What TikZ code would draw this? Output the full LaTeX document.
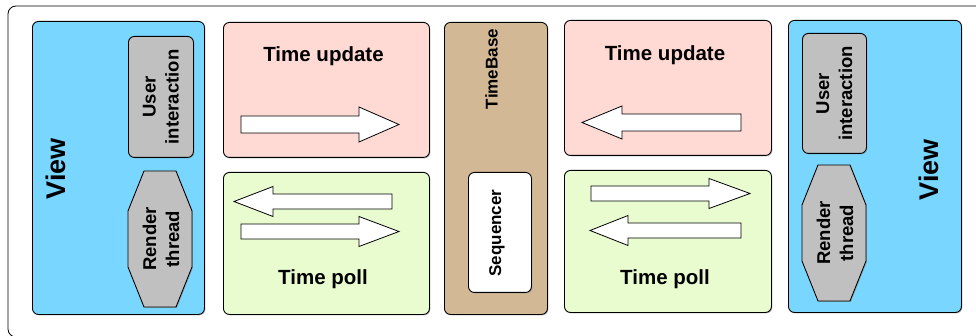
\documentclass[tikz,border=0pt]{standalone}
\usepackage{fontspec}
\setmainfont{Liberation Sans}
\usetikzlibrary{shadows}

\definecolor{viewblue}{HTML}{78D6FF}
\definecolor{updpink}{HTML}{FFD9D3}
\definecolor{pollgreen}{HTML}{E8FCD0}
\definecolor{basetan}{HTML}{D2B895}
\definecolor{partgray}{HTML}{C0C0C0}

\tikzset{
  panel/.style={draw=black, line width=0.9pt, rounded corners=6pt,
    inner sep=0pt, anchor=north west,
    drop shadow={shadow xshift=0.9pt, shadow yshift=-0.9pt, opacity=0.55}},
  octa/.style={draw=black, line width=0.9pt, fill=partgray,
    drop shadow={shadow xshift=0.9pt, shadow yshift=-0.9pt, opacity=0.55}},
  blockarrow/.style={draw=black, line width=0.8pt, fill=white},
  title/.style={font=\bfseries\fontsize{20.5}{24}\selectfont, inner sep=0pt, anchor=base},
  sidetext/.style={rotate=90, align=center, inner sep=0pt,
    font=\bfseries\fontsize{18.5}{23}\selectfont},
  basetext/.style={rotate=90, inner sep=0pt, font=\bfseries\fontsize{17}{20}\selectfont},
  viewtext/.style={rotate=90, inner sep=0pt, font=\bfseries\fontsize{27}{30}\selectfont},
}

% block arrow: tail x, head base x, tip x, centre y, half body width, half head width
\newcommand{\fatarrow}[6]{%
  \draw[blockarrow] (#1,#4-#5) -- (#2,#4-#5) -- (#2,#4-#6) -- (#3,#4)
    -- (#2,#4+#6) -- (#2,#4+#5) -- (#1,#4+#5) -- cycle;}

% octagon around a named node centre: half width, half height, chamfer x, chamfer y
\newcommand{\octagon}[5]{%
  \path[octa] ([shift={(-#2+#4,-#3)}]#1.center) -- ([shift={(#2-#4,-#3)}]#1.center)
    -- ([shift={(#2,-#3+#5)}]#1.center) -- ([shift={(#2,#3-#5)}]#1.center)
    -- ([shift={(#2-#4,#3)}]#1.center) -- ([shift={(-#2+#4,#3)}]#1.center)
    -- ([shift={(-#2,#3-#5)}]#1.center) -- ([shift={(-#2,-#3+#5)}]#1.center) -- cycle;}

\begin{document}
\begin{tikzpicture}[x=1pt, y=-1pt]
\useasboundingbox (0,0) rectangle (976,336);
\clip (0,0) rectangle (976,336);
\fill[white] (0,0) rectangle (976,336);

% outer frame
\draw[line width=0.8pt, rounded corners=8pt] (8,6) rectangle (992,337);

% ---- left view ----
\node[panel, fill=viewblue, minimum width=172pt, minimum height=293pt] (viewL) at (32,21) {};
\node[panel, fill=partgray, minimum width=65pt, minimum height=121pt] (uiL) at (128,36) {};
\node[sidetext] (uiLtext) at (uiL.center) {User\\interaction};
\coordinate (rtL) at (160,239);
\octagon{rtL}{32}{68}{16}{40}
\node[sidetext] (rtLtext) at (161,239) {Render\\thread};
\node[viewtext] (viewLtext) at (56,169) {View};

% ---- left time update / poll ----
\node[panel, fill=updpink, minimum width=206pt, minimum height=135pt] (updL) at (223,22) {};
\node[title] (updLtext) at (323.5,62) {Time update};
\fatarrow{241}{359}{399}{124.5}{8.5}{17.5}

\node[panel, fill=pollgreen, minimum width=206pt, minimum height=142pt] (pollL) at (223,172) {};
\node[title] (pollLtext) at (323,285) {Time poll};
\fatarrow{392}{273}{234}{201.5}{7.5}{15}
\fatarrow{241}{359}{399}{231.5}{7.5}{15}

% ---- time base ----
\node[panel, fill=basetan, minimum width=103pt, minimum height=292pt] (tb) at (444,22) {};
\node[basetext] (tbtext) at (491.5,69) {TimeBase};
\node[panel, fill=white, minimum width=63pt, minimum height=120pt] (seq) at (468,172) {};
\node[basetext] (seqtext) at (497,233) {Sequencer};

% ---- right time update / poll ----
\node[panel, fill=updpink, minimum width=207pt, minimum height=135pt] (updR) at (564,20) {};
\node[title] (updRtext) at (665,61) {Time update};
\fatarrow{741}{622}{582}{122.5}{8.5}{16.5}

\node[panel, fill=pollgreen, minimum width=207pt, minimum height=142pt] (pollR) at (564,170) {};
\node[title] (pollRtext) at (665,284) {Time poll};
\fatarrow{591}{709}{750}{193.5}{7.5}{15}
\fatarrow{741}{628}{590}{230.5}{7.5}{15}

% ---- right view ----
\node[panel, fill=viewblue, minimum width=173pt, minimum height=292pt] (viewR) at (788,20) {};
\node[panel, fill=partgray, minimum width=64pt, minimum height=120pt] (uiR) at (802,33) {};
\node[sidetext] (uiRtext) at (uiR.center) {User\\interaction};
\coordinate (rtR) at (834,233);
\octagon{rtR}{32}{68}{16}{40}
\node[sidetext] (rtRtext) at (835,233) {Render\\thread};
\node[viewtext] (viewRtext) at (929,170) {View};
\end{tikzpicture}
\end{document}
